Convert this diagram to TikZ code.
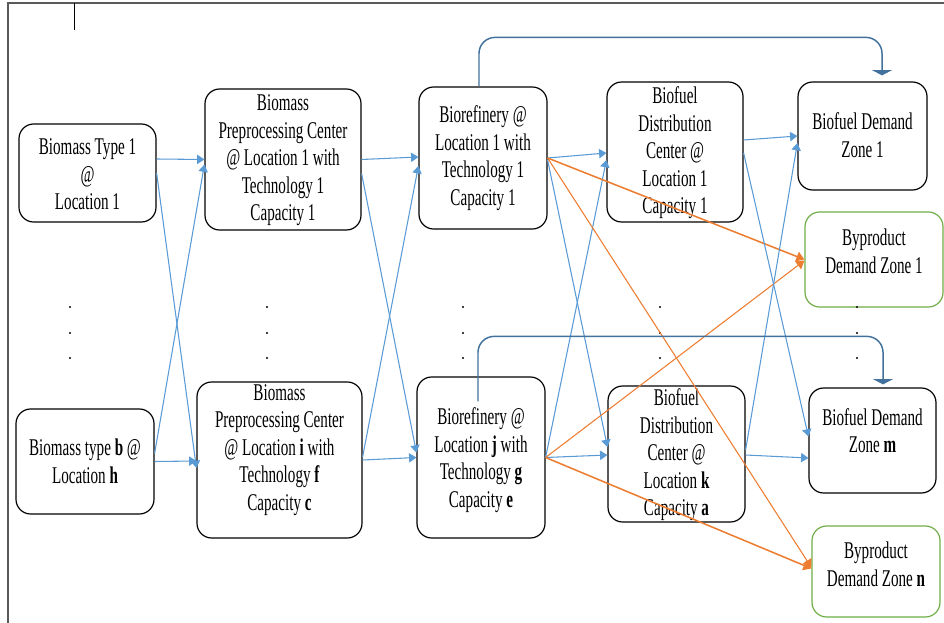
\documentclass[tikz,border=0pt]{standalone}
\usepackage{fontspec}
\setmainfont[FakeStretch=0.63]{Liberation Serif}
\usetikzlibrary{arrows.meta,calc}

\definecolor{flowblue}{HTML}{5B9BD5}
\definecolor{flowdark}{HTML}{41719C}
\definecolor{floworange}{HTML}{ED7D31}
\definecolor{flowgreen}{HTML}{70AD47}
\definecolor{framegray}{HTML}{595959}

\tikzset{
  boxsize/.style 2 args={minimum width=#1*0.75pt, minimum height=#2*0.75pt},
  stage/.style={draw=black, line width=0.9pt, rounded corners=11pt, inner sep=0pt},
  byprod/.style={stage, draw=flowgreen},
  stagetext/.style={align=center, inner sep=0pt, font=\fontsize{18}{20.6}\selectfont},
  bluearrow/.style={draw=flowblue, line width=0.8pt, -{Triangle[length=5.5pt,width=7pt]}},
  orangearrow/.style={draw=floworange, line width=0.8pt, -{Triangle[length=6pt,width=7.5pt]}},
  heavy/.style={line width=1.15pt},
  looparrow/.style={draw=flowdark, line width=1.1pt, rounded corners=12pt, -{Triangle[length=4pt,width=15pt]}},
}

\begin{document}
\begin{tikzpicture}[x=0.75pt,y=-0.75pt]
\useasboundingbox (0,0) rectangle (944,623);

% outer frame
\draw[framegray, line width=1.5pt] (8,623) -- (8,3) -- (944,3);
\draw[black, line width=0.6pt] (74,3) -- (74,30);

% stage boxes
\node[stage, boxsize={137}{98}]  (a1) at (87.5,173)   {};
\node[stage, boxsize={138}{105}] (a2) at (85,461.5)   {};
\node[stage, boxsize={156}{141}] (p1) at (283,159.5)  {};
\node[stage, boxsize={165}{156}] (p2) at (279.5,460)  {};
\node[stage, boxsize={128}{142}] (r1) at (483,158)    {};
\node[stage, boxsize={128}{161}] (r2) at (481,457.5)  {};
\node[stage, boxsize={136}{140}] (d1) at (675,152)    {};
\node[stage, boxsize={137}{136}] (d2) at (676.5,454)  {};
\node[stage, boxsize={129}{108}] (z1) at (862.5,136)  {};
\node[stage, boxsize={127}{105}] (zm) at (872.5,440.5){};
\node[byprod, boxsize={138}{95}] (y1) at (874,259.5)  {};
\node[byprod, boxsize={128}{91}] (yn) at (876,571.5)  {};

% box labels
\node[stagetext] (a1t) at ($(a1)+(0,1.5)$) {Biomass Type 1\\@\\Location 1};
\node[stagetext] (a2t) at (a2) {Biomass type \textbf{b} @\\Location \textbf{h}};
\node[stagetext] (p1t) at ($(p1)+(0,1)$) {Biomass\\Preprocessing Center\\@ Location 1 with\\Technology 1\\Capacity 1};
\node[stagetext] (p2t) at ($(p2)+(0,-10)$) {Biomass\\Preprocessing Center\\@ Location \textbf{i} with\\Technology \textbf{f}\\Capacity \textbf{c}};
\node[stagetext] (r1t) at (r1) {Biorefinery @\\Location 1 with\\Technology 1\\Capacity 1};
\node[stagetext] (r2t) at ($(r2)+(0,2.5)$) {Biorefinery @\\Location \textbf{j} with\\Technology \textbf{g}\\Capacity \textbf{e}};
\node[stagetext] (d1t) at ($(d1)+(0,1)$) {Biofuel\\Distribution\\Center @\\Location 1\\Capacity 1};
\node[stagetext] (d2t) at ($(d2)+(0,1)$) {Biofuel\\Distribution\\Center @\\Location \textbf{k}\\Capacity \textbf{a}};
\node[stagetext] (z1t) at ($(z1)+(0,-1)$) {Biofuel Demand\\Zone 1};
\node[stagetext] (zmt) at ($(zm)+(0,-10)$) {Biofuel Demand\\Zone \textbf{m}};
\node[stagetext] (y1t) at ($(y1)+(0,-8)$) {Byproduct\\Demand Zone 1};
\node[stagetext] (ynt) at ($(yn)+(0,-7)$) {Byproduct\\Demand Zone \textbf{n}};

% continuation dots
\foreach \cx in {70,267,463,660,857}
  \foreach \cy in {307,333,358}
    \fill (\cx,\cy) circle (0.9pt);

% biomass -> preprocessing
\draw[bluearrow] ($(a1.east)+(0,-14)$) -- (p1.west);
\draw[bluearrow] (a1.east) -- ($(p2.west)+(0,8)$);
\draw[bluearrow] ($(a2.east)+(0,-8)$) -- ($(p1.west)+(0,5)$);
\draw[bluearrow] (a2.east) -- ($(p2.west)+(0,1)$);

% preprocessing -> biorefinery
\draw[bluearrow] (p1.east) -- ($(r1.west)+(0,-1)$);
\draw[bluearrow] ($(p1.east)+(0,14)$) -- ($(r2.west)+(0,-5)$);
\draw[bluearrow] ($(p2.east)+(0,-3)$) -- ($(r1.west)+(0,8)$);
\draw[bluearrow] (p2.east) -- (r2.west);

% biorefinery -> distribution
\draw[bluearrow] (r1.east) -- ($(d1.west)+(0,1)$);
\draw[bluearrow] ($(r1.east)+(0,2)$) -- ($(d2.west)+(0,-7)$);
\draw[bluearrow] (r2.east) -- ($(d1.west)+(0,8)$);
\draw[bluearrow] (r2.east) -- ($(d2.west)+(0,1)$);

% biorefinery -> byproduct demand
\draw[orangearrow, heavy] (r1.east) -- (y1.west);
\draw[orangearrow] (r1.east) -- ($(yn.west)+(0,-4)$);
\draw[orangearrow] (r2.east) -- ($(y1.west)+(0,1)$);
\draw[orangearrow, heavy] (r2.east) -- ($(yn.west)+(0,-3)$);

% distribution -> biofuel demand
\draw[bluearrow] ($(d1.east)+(0,-12)$) -- (z1.west);
\draw[bluearrow] ($(d1.east)+(0,1)$) -- ($(zm.west)+(0,-4)$);
\draw[bluearrow] ($(d2.east)+(0,-4)$) -- ($(z1.west)+(0,7)$);
\draw[bluearrow] ($(d2.east)+(0,1)$) -- ($(zm.west)+(0,17.5)$);

% direct shipments biorefinery -> biofuel demand
\draw[looparrow] ($(r1.north)+(-4,0)$) -- ++(0,-49) -| ($(z1.north)+(19.5,-6)$);
\draw[looparrow] ($(r2.north)+(-3,25)$) -- ++(0,-65) -| ($(zm.north)+(10.5,-3)$);
\end{tikzpicture}
\end{document}
